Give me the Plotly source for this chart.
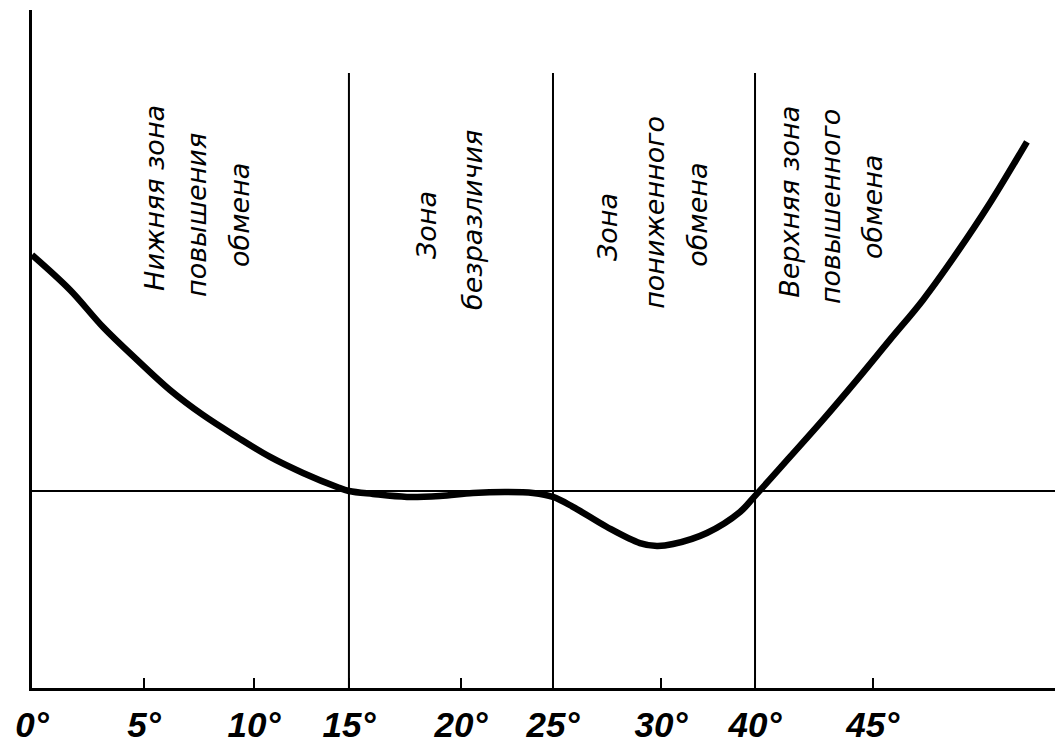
import plotly.graph_objects as go

# x positions are in axis units of the (non-uniform) printed scale
tick_pos = [0.0, 5.0, 9.91, 14.15, 19.15, 23.26, 28.08, 32.28, 37.54]
tick_text = ["0°", "5°", "10°", "15°", "20°", "25°", "30°", "40°", "45°"]

curve_x = [0.0, 1.70, 3.17, 4.69, 6.16, 7.63, 9.15, 10.63, 12.10, 13.62, 14.15,
           15.22, 16.74, 18.21, 19.69, 21.21, 22.37, 23.26, 24.15, 25.67, 27.14,
           27.90, 28.62, 30.13, 31.61, 32.28, 33.84, 35.31, 36.83, 38.30, 39.78,
           41.29, 42.77, 44.42]
curve_y = [218.7, 201.0, 182.3, 165.7, 150.5, 137.9, 126.8, 116.7, 108.6, 101.5, 99.5,
           98.0, 96.5, 97.0, 98.5, 99.0, 98.5, 96.5, 91.5, 81.3, 73.2,
           71.7, 72.7, 78.3, 88.9, 97.0, 116.7, 135.4, 155.6, 175.8, 196.0,
           219.7, 244.9, 275.8]

zone_bounds = [14.15, 23.26, 32.28]
zone_top = 310.6
ref_level = 99.5

labels = [
    ("Нижняя зона", 5.49, 247.5),
    ("повышения", 7.37, 238.9),
    ("обмена", 9.29, 238.9),
    ("Зона", 17.59, 233.8),
    ("безразличия", 19.69, 236.4),
    ("Зона", 25.67, 232.8),
    ("пониженного", 27.81, 240.4),
    ("обмена", 29.73, 238.9),
    ("Верхняя зона", 33.84, 245.5),
    ("повышенного", 35.63, 242.9),
    ("обмена", 37.50, 242.9),
]

X_MAX = 46.03
Y_MAX = 342.4

fig = go.Figure()

# reference horizontal line
fig.add_trace(go.Scatter(x=[0, X_MAX], y=[ref_level, ref_level], mode="lines",
                         line=dict(color="black", width=2), hoverinfo="skip"))
# zone boundaries
for xb in zone_bounds:
    fig.add_trace(go.Scatter(x=[xb, xb], y=[0, zone_top], mode="lines",
                             line=dict(color="black", width=2), hoverinfo="skip"))
# curve
fig.add_trace(go.Scatter(x=curve_x, y=curve_y, mode="lines",
                         line=dict(color="black", width=6.5, shape="spline", smoothing=1.0)))

for text, x, y in labels:
    fig.add_annotation(x=x, y=y, text=text, textangle=-90, showarrow=False,
                       xanchor="center", yanchor="middle",
                       font=dict(family="DejaVu Sans", size=27, color="black", style="italic"))

# page body has an 8px margin; the figure is sized to fit the 1063x751 window
fig.update_layout(
    width=1055, height=743,
    margin=dict(l=24, r=0, t=2, b=63, autoexpand=False),
    paper_bgcolor="white", plot_bgcolor="white",
    showlegend=False,
    xaxis=dict(range=[0, X_MAX], showgrid=False, zeroline=False, automargin=False,
               showline=True, linecolor="black", linewidth=3,
               tickvals=tick_pos, ticktext=tick_text,
               ticks="inside", ticklen=10, tickwidth=2, tickcolor="black",
               ticklabelstandoff=4,
               tickfont=dict(family="Liberation Sans", size=35, color="black",
                             weight="bold", style="italic")),
    yaxis=dict(range=[0, Y_MAX], showgrid=False, zeroline=False, automargin=False,
               showline=True, linecolor="black", linewidth=3,
               showticklabels=False, ticks=""),
)

fig.write_html("out.html")
